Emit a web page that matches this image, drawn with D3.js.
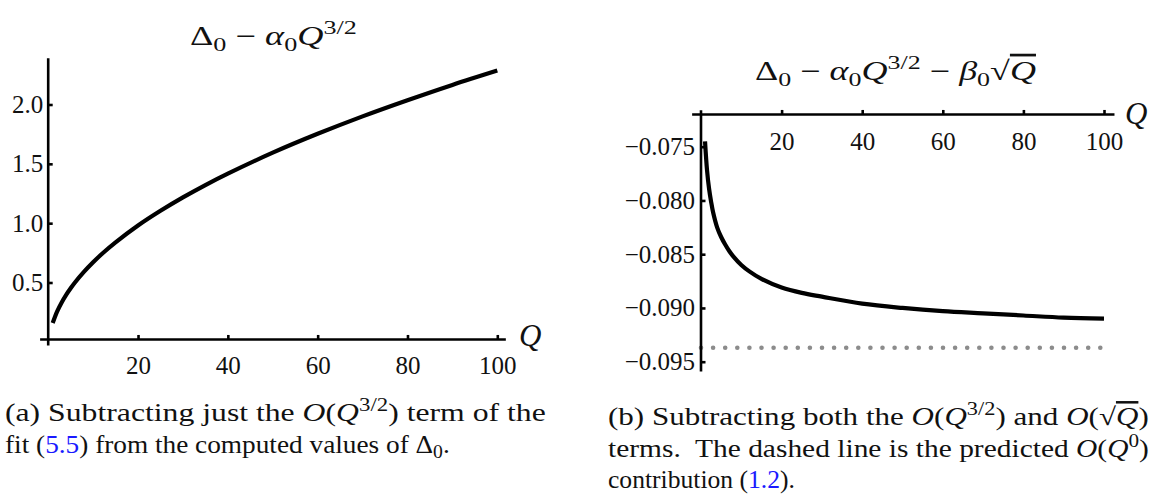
<!DOCTYPE html>
<html>
<head>
<meta charset="utf-8">
<script src="https://cdn.jsdelivr.net/npm/d3@7"></script>
<style>
  html, body { margin: 0; padding: 0; background: #fff; }
  svg { display: block; }
  text { white-space: pre; }
</style>
</head>
<body>
<svg id="chart" width="1151" height="494"></svg>
<script>
// ---------------- DATA ----------------
// (a) Δ0 − α0 Q^{3/2}
const leftQ = [1, 2, 3, 4, 5, 6, 8, 10, 12, 15, 20, 25, 30, 35, 40, 50, 60, 70, 80, 90, 100];
const leftV = [0.159, 0.257, 0.332, 0.396, 0.451, 0.502, 0.591, 0.670, 0.742, 0.838, 0.980, 1.104, 1.217, 1.321, 1.417, 1.594, 1.753, 1.900, 2.036, 2.165, 2.286];
// (b) Δ0 − α0 Q^{3/2} − β0 √Q
const rightQ = [1, 1.5, 2, 2.5, 3, 4, 5, 6, 7, 8, 10, 12, 15, 20, 25, 30, 40, 50, 60, 70, 80, 90, 100];
const rightV = [-0.0745, -0.0772, -0.0789, -0.0801, -0.0811, -0.0825, -0.0834, -0.0841, -0.0847, -0.0852,
                -0.0860, -0.0866, -0.0873, -0.0881, -0.0886, -0.08895, -0.0896, -0.0900, -0.0903, -0.0905,
                -0.0907, -0.0909, -0.0910];
// predicted O(Q^0) contribution (dotted line)
const predictedQ = [0, 100];
const predictedV = [-0.0937, -0.0937];

const leftXTicks = [20, 40, 60, 80, 100];
const leftYTicks = [0.5, 1.0, 1.5, 2.0];
const rightXTicks = [20, 40, 60, 80, 100];
const rightYTicks = [-0.075, -0.080, -0.085, -0.090, -0.095];

// axis extents (data units)
const leftXExtent = [-1.8, 101.9], leftYExtent = [-0.03, 2.39], leftAxisY = 0.02;
const rightXExtent = [-2.2, 102.6], rightYExtent = [-0.0716, -0.0959], rightAxisY = -0.072;

// ---------------- SETUP ----------------
const svg = d3.select('#chart');
svg.append('rect').attr('width', 1151).attr('height', 494).attr('fill', '#fff');
const SERIF = "'Liberation Serif', 'Times New Roman', Times, serif";
const AXW = 2.6;

function rich(parent, x, y, size, segs) {
  const t = parent.append('text').attr('x', x).attr('y', y)
    .style('font-family', SERIF).style('font-size', size + 'px').attr('fill', '#111');
  let cur = 0;
  segs.forEach(s => {
    const txt = s[0], kind = s[1] || '';
    let off = 0, fs = size;
    if (kind.includes('sub')) { off = 0.22 * size; fs = 0.72 * size; }
    if (kind.includes('sup')) { off = -0.40 * size; fs = 0.72 * size; }
    const ts = t.append('tspan').text(txt).attr('dy', off - cur).style('font-size', fs + 'px');
    cur = off;
    if (kind.includes('i')) ts.style('font-style', 'italic');
    if (kind.includes('blue')) ts.attr('fill', '#1a1aff');
    if (kind.includes('over')) ts.style('text-decoration', 'overline');
  });
  return t;
}
function fitTo(t, x1, x2) {
  const bb = t.node().getBBox();
  const s = (x2 - x1) / bb.width;
  t.attr('transform', `translate(${x1 - s * bb.x},0) scale(${s},1)`);
}
const smooth = d3.curveCatmullRom.alpha(0.5);

// ---------------- LEFT CHART ----------------
const xL = d3.scaleLinear().domain([0, 100]).range([48.2, 497.3]);
const yL = d3.scaleLinear().domain([0.5, 2.0]).range([282.5, 104.5]);
const gL = svg.append('g');

gL.append('line').attr('x1', xL(0)).attr('x2', xL(0))
  .attr('y1', yL(leftYExtent[1])).attr('y2', yL(leftYExtent[0]))
  .attr('stroke', '#000').attr('stroke-width', AXW);
gL.append('line').attr('x1', xL(leftXExtent[0])).attr('x2', xL(leftXExtent[1]))
  .attr('y1', yL(leftAxisY)).attr('y2', yL(leftAxisY))
  .attr('stroke', '#000').attr('stroke-width', AXW);

const axLx = gL.append('g').attr('transform', `translate(0,${yL(leftAxisY)})`)
  .call(d3.axisBottom(xL).tickValues(leftXTicks).tickSizeInner(-4.5).tickSizeOuter(0).tickPadding(17).tickFormat(d3.format('d')));
const axLy = gL.append('g').attr('transform', `translate(${xL(0)},0)`)
  .call(d3.axisLeft(yL).tickValues(leftYTicks).tickSizeInner(-4.5).tickSizeOuter(0).tickPadding(5).tickFormat(d3.format('.1f')));

gL.append('path').datum(leftQ.map((q, i) => [q, leftV[i]]))
  .attr('d', d3.line().x(d => xL(d[0])).y(d => yL(d[1])).curve(smooth))
  .attr('fill', 'none').attr('stroke', '#000').attr('stroke-width', 4.2);

rich(gL, 519, 346, 31, [['Q', 'i']]);
const tL = rich(gL, 190, 45, 27, [['Δ'], ['0', 'sub'], [' − '], ['α', 'i'], ['0', 'sub'], ['Q', 'i'], ['3/2', 'sup']]);
fitTo(tL, 190, 357);

// ---------------- RIGHT CHART ----------------
const xR = d3.scaleLinear().domain([0, 100]).range([701, 1104]);
const yR = d3.scaleLinear().domain([-0.075, -0.095]).range([146.7, 361.7]);
const gR = svg.append('g');

gR.append('path').datum(predictedQ.map((q, i) => [q, predictedV[i]]))
  .attr('d', d3.line().x(d => xR(d[0])).y(d => yR(d[1])))
  .attr('fill', 'none').attr('stroke', '#8c8c8c').attr('stroke-width', 4.6)
  .attr('stroke-linecap', 'round').attr('stroke-dasharray', '0 12.1');

gR.append('line').attr('x1', xR(0)).attr('x2', xR(0))
  .attr('y1', yR(rightYExtent[0])).attr('y2', yR(rightYExtent[1]))
  .attr('stroke', '#000').attr('stroke-width', AXW);
gR.append('line').attr('x1', xR(rightXExtent[0])).attr('x2', xR(rightXExtent[1]))
  .attr('y1', yR(rightAxisY)).attr('y2', yR(rightAxisY))
  .attr('stroke', '#000').attr('stroke-width', AXW);

const axRx = gR.append('g').attr('transform', `translate(0,${yR(rightAxisY)})`)
  .call(d3.axisBottom(xR).tickValues(rightXTicks).tickSizeInner(-4.5).tickSizeOuter(0).tickPadding(18).tickFormat(d3.format('d')));
const axRy = gR.append('g').attr('transform', `translate(${xR(0)},0)`)
  .call(d3.axisLeft(yR).tickValues(rightYTicks).tickSizeInner(-4.5).tickSizeOuter(0).tickPadding(6).tickFormat(d3.format('.3f')));

gR.append('path').datum(rightQ.map((q, i) => [q, rightV[i]]))
  .attr('d', d3.line().x(d => xR(d[0])).y(d => yR(d[1])).curve(smooth))
  .attr('fill', 'none').attr('stroke', '#000').attr('stroke-width', 4.2);

rich(gR, 1125, 124, 31, [['Q', 'i']]);
const tR = rich(gR, 755, 80, 27, [['Δ'], ['0', 'sub'], [' − '], ['α', 'i'], ['0', 'sub'], ['Q', 'i'], ['3/2', 'sup'],
  [' − '], ['β', 'i'], ['0', 'sub'], ['√'], ['Q', 'i over']]);
fitTo(tR, 755, 1036);

// axis styling
[axLx, axLy, axRx, axRy].forEach(a => {
  a.select('.domain').remove();
  a.selectAll('.tick line').attr('stroke', '#000').attr('stroke-width', AXW);
  a.selectAll('.tick text').attr('fill', '#111').style('font-family', SERIF).style('font-size', '25px');
});

// ---------------- CAPTIONS ----------------
const gC = svg.append('g');
const CS = 25;
const c1 = rich(gC, 5, 421, CS, [['(a) Subtracting just the '], ['O', 'i'], ['('], ['Q', 'i'], ['3/2', 'sup'], [') term of the']]);
fitTo(c1, 5, 546);
const c2 = rich(gC, 5, 453, CS, [['fit ('], ['5.5', 'blue'], [') from the computed values of Δ'], ['0', 'sub'], ['.']]);
fitTo(c2, 5, 450);
const c3 = rich(gC, 608, 425, CS, [['(b) Subtracting both the '], ['O', 'i'], ['('], ['Q', 'i'], ['3/2', 'sup'], [') and '], ['O', 'i'], ['(√'], ['Q', 'i over'], [')']]);
fitTo(c3, 608, 1149);
const c4 = rich(gC, 608, 457, CS, [['terms.  The dashed line is the predicted '], ['O', 'i'], ['('], ['Q', 'i'], ['0', 'sup'], [')']]);
fitTo(c4, 608, 1149);
const c5 = rich(gC, 608, 488, CS, [['contribution ('], ['1.2', 'blue'], [').']]);
fitTo(c5, 608, 795);
</script>
</body>
</html>
